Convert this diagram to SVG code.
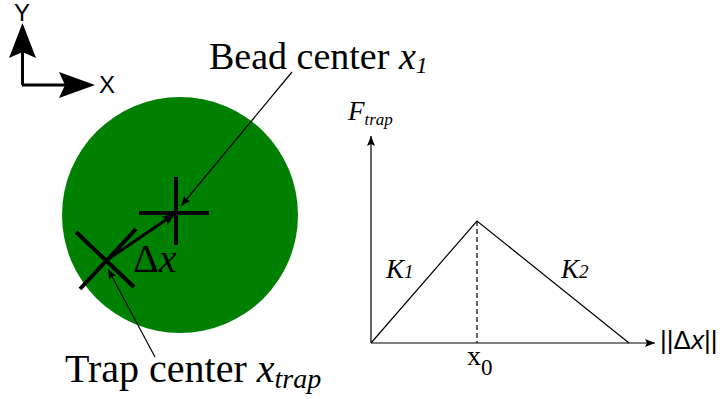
<svg xmlns="http://www.w3.org/2000/svg" width="723" height="399" viewBox="0 0 723 399">
<style>
.serif{font-family:"Liberation Serif","Times New Roman",serif;fill:#000}
.sans{font-family:"Liberation Sans",Arial,sans-serif;fill:#000}
.thin{stroke:#000;stroke-width:1.2;fill:none}
.thick{stroke:#000;stroke-width:4;fill:none}
</style>
<defs>
<marker id="ah" viewBox="0 0 10 8" refX="10" refY="4" markerWidth="10" markerHeight="8" markerUnits="userSpaceOnUse" orient="auto">
<path d="M0,0 L10,4 L0,8 L2,4 Z" fill="#000"/>
</marker>
<marker id="ahb" viewBox="0 0 14 10" refX="14" refY="5" markerWidth="14" markerHeight="10" markerUnits="userSpaceOnUse" orient="auto">
<path d="M0,0 L14,5 L0,10 L3,5 Z" fill="#000"/>
</marker>
</defs>
<rect width="723" height="399" fill="#fff"/>

<g id="axes-icon">
<path d="M22.5,85 L22.5,45 M22,85 L68,85" stroke="#000" stroke-width="3" fill="none"/>
<path d="M22.5,23 L36,58 L22.5,52 L9,58 Z" fill="#000"/>
<path d="M95,85 L59,98 L65,85 L59,72 Z" fill="#000"/>
<text class="sans" x="22" y="21" font-size="24" text-anchor="middle">Y</text>
<text class="sans" x="99" y="93" font-size="24">X</text>
</g>

<g id="bead">
<circle cx="180" cy="215" r="118" fill="#008000"/>
</g>

<g id="bead-center">
<path class="thick" d="M176,177 L176,245 M139,213 L209,213"/>
</g>

<g id="trap-center">
<path class="thick" d="M76,232 L134,287 M80,289 L136,229"/>
</g>

<g id="connectors">
<path d="M107,260 L176,213" stroke="#000" stroke-width="3" fill="none" marker-end="url(#ahb)"/>
<path class="thin" d="M292,72 L181,206" marker-end="url(#ah)"/>
<path class="thin" d="M155,357 L108,269" marker-end="url(#ah)"/>
</g>

<g id="labels">
<text class="serif" x="133" y="272" font-size="40">Δ<tspan font-style="italic">x</tspan></text>
<text class="serif" x="209" y="69" font-size="38">Bead center <tspan font-style="italic">x</tspan><tspan font-style="italic" font-size="24" dy="4">1</tspan></text>
<text class="serif" x="65" y="382" font-size="40">Trap center <tspan font-style="italic">x</tspan><tspan font-style="italic" font-size="28" dy="6">trap</tspan></text>
</g>

<g id="graph">
<path class="thin" d="M371,343 L371,136" marker-end="url(#ah)"/>
<path class="thin" d="M371,343 L655,343" marker-end="url(#ah)"/>
<path class="thin" d="M371,343 L477,221 L629,343"/>
<path class="thin" d="M477,221 L477,343" stroke-dasharray="5,3"/>
<text class="serif" x="348" y="120" font-size="27" font-style="italic">F<tspan font-size="17" dy="5">trap</tspan></text>
<text class="serif" x="386" y="278" font-size="27" font-style="italic">K<tspan font-size="19">1</tspan></text>
<text class="serif" x="561" y="278" font-size="27" font-style="italic">K<tspan font-size="19">2</tspan></text>
<text class="serif" x="467" y="365" font-size="28">x<tspan font-size="23" dy="10">0</tspan></text>
<text class="sans" x="660" y="349" font-size="26">||Δ<tspan font-style="italic">x</tspan>||</text>
</g>
</svg>
